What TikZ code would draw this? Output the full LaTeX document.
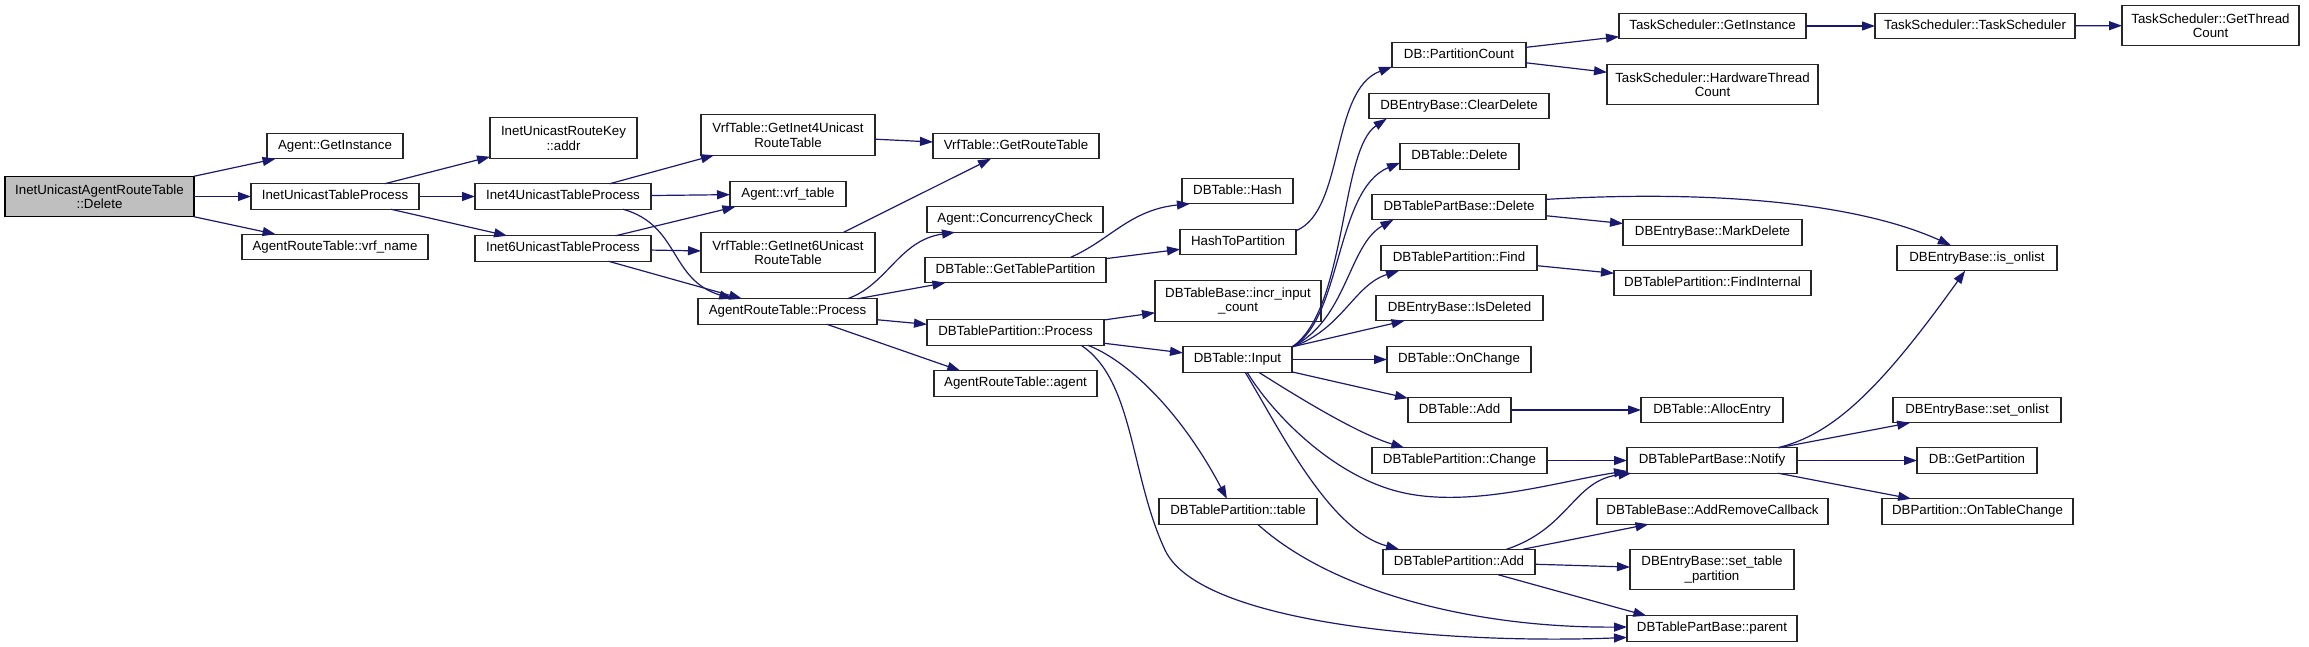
\documentclass[tikz,border=0pt]{standalone}
\usepackage{fontspec}
\setmainfont{Liberation Sans}
\usetikzlibrary{arrows.meta}
\definecolor{callblue}{RGB}{25,25,112}
\definecolor{rootgray}{RGB}{191,191,191}
\tikzset{
  fnbox/.style={draw=black!85, line width=1.2pt, fill=white, inner sep=0pt, outer sep=0pt, align=center, font=\fontsize{13.3}{14.5}\selectfont},
  fn/.style={fnbox, minimum height=25.5pt, text height=9.6pt, text depth=2.9pt},
  fnn/.style={fnbox, minimum height=40.5pt},
  call/.style={draw=callblue, line width=1.2pt, -{Triangle[length=13pt,width=9pt]}}
}
\begin{document}
\begin{tikzpicture}[x=1pt,y=-1pt]
\useasboundingbox (0,0) rectangle (2309,647);
\node[fnn, fill=rootgray, draw=black, minimum width=189pt] (root) at (99.5,196.5) {InetUnicastAgentRouteTable\\::Delete};
\node[fn, minimum width=136pt] (agentGI) at (335,146) {Agent::GetInstance};
\node[fn, minimum width=168pt] (iutp) at (335,196.5) {InetUnicastTableProcess};
\node[fn, minimum width=186pt] (vrfname) at (335,247) {AgentRouteTable::vrf\_name};
\node[fnn, minimum width=147pt] (rkaddr) at (563.5,138) {InetUnicastRouteKey\\::addr};
\node[fn, minimum width=176pt] (i4tp) at (563,196.5) {Inet4UnicastTableProcess};
\node[fn, minimum width=176pt] (i6tp) at (563,248.5) {Inet6UnicastTableProcess};
\node[fnn, minimum width=174pt] (gi4) at (788,135) {VrfTable::GetInet4Unicast\\RouteTable};
\node[fn, minimum width=116pt] (vrftable) at (788,194) {Agent::vrf\_table};
\node[fnn, minimum width=174pt] (gi6) at (788,252.5) {VrfTable::GetInet6Unicast\\RouteTable};
\node[fn, minimum width=179pt] (artp) at (787.5,311.5) {AgentRouteTable::Process};
\node[fn, minimum width=166pt] (grt) at (1016,146) {VrfTable::GetRouteTable};
\node[fn, minimum width=176pt] (conc) at (1015,219.5) {Agent::ConcurrencyCheck};
\node[fn, minimum width=181pt] (gtp) at (1015.5,270) {DBTable::GetTablePartition};
\node[fn, minimum width=177pt] (dtpp) at (1015.5,332.5) {DBTablePartition::Process};
\node[fn, minimum width=163pt] (agent) at (1015.5,383.5) {AgentRouteTable::agent};
\node[fn, minimum width=111pt] (hash) at (1237.5,191) {DBTable::Hash};
\node[fn, minimum width=116pt] (h2p) at (1238,242) {HashToPartition};
\node[fnn, minimum width=166pt] (incr) at (1238,301) {DBTableBase::incr\_input\\\_count};
\node[fn, minimum width=109pt] (input) at (1237.5,359.5) {DBTable::Input};
\node[fn, minimum width=158pt] (dtptable) at (1238,511.5) {DBTablePartition::table};
\node[fn, minimum width=134pt] (pcount) at (1459,55) {DB::PartitionCount};
\node[fn, minimum width=180pt] (cleardel) at (1459,106) {DBEntryBase::ClearDelete};
\node[fn, minimum width=119pt] (tdel) at (1459.5,156.5) {DBTable::Delete};
\node[fn, minimum width=174pt] (pbdel) at (1459,207) {DBTablePartBase::Delete};
\node[fn, minimum width=156pt] (find) at (1459,258) {DBTablePartition::Find};
\node[fn, minimum width=167pt] (isdel) at (1459.5,308) {DBEntryBase::IsDeleted};
\node[fn, minimum width=144pt] (onchange) at (1459,359.5) {DBTable::OnChange};
\node[fn, minimum width=103pt] (tadd) at (1459.5,410) {DBTable::Add};
\node[fn, minimum width=175pt] (change) at (1459.5,460.5) {DBTablePartition::Change};
\node[fn, minimum width=152pt] (padd) at (1459,562) {DBTablePartition::Add};
\node[fn, minimum width=187pt] (tsgi) at (1712.5,26) {TaskScheduler::GetInstance};
\node[fnn, minimum width=211pt] (hwtc) at (1712.5,84.5) {TaskScheduler::HardwareThread\\Count};
\node[fn, minimum width=179pt] (markdel) at (1712.5,232.5) {DBEntryBase::MarkDelete};
\node[fn, minimum width=197pt] (findint) at (1712.5,283) {DBTablePartition::FindInternal};
\node[fn, minimum width=142pt] (alloc) at (1712,410) {DBTable::AllocEntry};
\node[fn, minimum width=170pt] (notify) at (1712,460.5) {DBTablePartBase::Notify};
\node[fn, minimum width=231pt] (arcb) at (1712.5,511.5) {DBTableBase::AddRemoveCallback};
\node[fnn, minimum width=164pt] (stp) at (1712,569.5) {DBEntryBase::set\_table\\\_partition};
\node[fn, minimum width=170pt] (parent) at (1712,628.5) {DBTablePartBase::parent};
\node[fn, minimum width=200pt] (tsts) at (1975,26) {TaskScheduler::TaskScheduler};
\node[fn, minimum width=160pt] (isonlist) at (1977,258) {DBEntryBase::is\_onlist};
\node[fn, minimum width=168pt] (setonlist) at (1977,410) {DBEntryBase::set\_onlist};
\node[fn, minimum width=120pt] (getpart) at (1977,460.5) {DB::GetPartition};
\node[fn, minimum width=191pt] (otc) at (1977.5,511.5) {DBPartition::OnTableChange};
\node[fnn, minimum width=177pt] (gtc) at (2210.5,25.5) {TaskScheduler::GetThread\\Count};
\draw[call] (root) -- (agentGI);
\draw[call] (root) -- (iutp);
\draw[call] (root) -- (vrfname);
\draw[call] (iutp) -- (rkaddr);
\draw[call] (iutp) -- (i4tp);
\draw[call] (iutp) -- (i6tp);
\draw[call] (i4tp) -- (gi4);
\draw[call] (i4tp) -- (vrftable);
\draw[call] (i4tp.-12) .. controls +(57,16) and +(-63,-19) .. (artp.167);
\draw[call] (i6tp) -- (vrftable);
\draw[call] (i6tp) -- (gi6);
\draw[call] (i6tp) -- (artp);
\draw[call] (gi4) -- (grt);
\draw[call] (gi6.20) -- (grt.207);
\draw[call] (artp.12) .. controls +(40,-14) and +(-56,8) .. (conc.192);
\draw[call] (artp) -- (gtp);
\draw[call] (artp) -- (dtpp);
\draw[call] (artp.-18) -- (agent.167);
\draw[call] (gtp.13) .. controls +(39,-17) and +(-60,6) .. (hash.195);
\draw[call] (gtp) -- (h2p);
\draw[call] (h2p.11) .. controls +(49,-20) and +(-62,23) .. (pcount.190);
\draw[call] (pcount) -- (tsgi);
\draw[call] (pcount) -- (hwtc);
\draw[call] (tsgi) -- (tsts);
\draw[call] (tsts) -- (gtc);
\draw[call] (dtpp) -- (incr);
\draw[call] (dtpp) -- (input);
\draw[call] (dtpp.-10) .. controls +(39,15) and +(-47,-89) .. (dtptable.131);
\draw[call] (dtpp.-11) .. controls +(53,35) and +(-35,-75) .. (1165,550) .. controls +(35,75) and +(-175,7) .. (parent.186);
\draw[call] (input.13) .. controls +(55,-37) and +(-47,31) .. (cleardel.190);
\draw[call] (input.13) .. controls +(50,-27) and +(-65,27) .. (tdel.186);
\draw[call] (input.13) .. controls +(55,-27) and +(-45,25) .. (pbdel.191);
\draw[call] (input.13) .. controls +(50,-17) and +(-45,14) .. (find.192);
\draw[call] (input) -- (isdel);
\draw[call] (input) -- (onchange);
\draw[call] (input) -- (tadd);
\draw[call] (input.-31) .. controls +(52,33) and +(-43,-13) .. (change.167);
\draw[call] (input.-53) .. controls +(23,38) and +(-70,-17) .. (1400,492) .. controls +(70,17) and +(-67,10) .. (notify.187);
\draw[call] (input.-59) .. controls +(35,58) and +(-70,-19) .. (padd.168);
\draw[call] (tadd) -- (alloc);
\draw[call] (change) -- (notify);
\draw[call] (pbdel) -- (markdel);
\draw[call] (pbdel.5) .. controls +(154,-9) and +(-100,-45) .. (isonlist.154);
\draw[call] (find) -- (findint);
\draw[call] (notify.11) .. controls +(55,-13) and +(-85,119) .. (isonlist.227);
\draw[call] (notify) -- (setonlist);
\draw[call] (notify) -- (getpart);
\draw[call] (notify) -- (otc);
\draw[call] (padd.15) .. controls +(63,-21) and +(-58,7) .. (notify.189);
\draw[call] (padd) -- (arcb);
\draw[call] (padd) -- (stp);
\draw[call] (padd.-18) -- (parent.169);
\draw[call] (dtptable.-33) .. controls +(73,66) and +(-157,1) .. (parent.179);
\end{tikzpicture}
\end{document}
